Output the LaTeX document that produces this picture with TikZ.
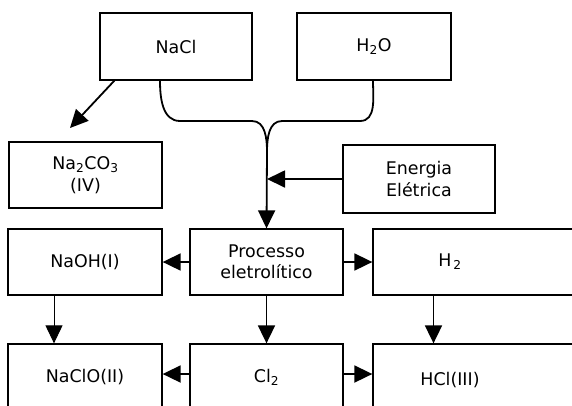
\documentclass[tikz,border=0pt]{standalone}
\usepackage{fontspec}
\setmainfont{DejaVu Sans}
\usetikzlibrary{arrows.meta}
\begin{document}
\begin{tikzpicture}[x=1bp,y=-1bp,
  box/.style={draw=black,line width=1.3bp,rectangle,inner sep=0pt,align=center,
    font=\fontsize{17.5}{21.5}\selectfont},
  txt/.style={inner sep=0pt,align=center,font=\fontsize{17.5}{21.5}\selectfont},
  arr/.style={draw=black,line width=1.8bp,-{Triangle[length=18bp,width=17bp]}},
  thinarr/.style={draw=black,line width=1bp,-{Triangle[length=18bp,width=17bp]}},
  conn/.style={draw=black,line width=1.8bp}]
\useasboundingbox (0,0) rectangle (572,405);
\clip (0,0) rectangle (572,405);
\node[box,minimum width=152bp,minimum height=67bp] (nacl) at (176,46.5) {NaCl};
\node[box,minimum width=154bp,minimum height=67bp] (h2o) at (374,46.5) {H\textsubscript{2}O};
\node[box,minimum width=153bp,minimum height=66bp] (na2co3) at (85.5,175) {Na\textsubscript{2}CO\textsubscript{3}\\(IV)};
\node[box,minimum width=152bp,minimum height=68bp] (ener) at (419,179) {Energia\\Elétrica};
\node[box,minimum width=153bp,minimum height=66bp] (proc) at (266.5,262) {Processo\\eletrolítico};
\node[box,minimum width=154bp,minimum height=66bp] (naoh) at (85,262) {NaOH(I)};
\node[box,minimum width=207bp,minimum height=66bp] (h2) at (476.5,262) {};
\node[txt] (h2t) at (450,262) {H\textsubscript{\,2}};
\node[box,minimum width=154bp,minimum height=66bp] (naclo) at (85,377) {NaClO(II)};
\node[box,minimum width=153bp,minimum height=66bp] (cl2) at (266.5,377) {Cl\textsubscript{2}};
\node[box,minimum width=207bp,minimum height=66bp] (hcl) at (476.5,377) {};
\node[txt] (hclt) at (450,380) {HCl(III)};
\coordinate (m) at (267,152);
\coordinate (t) at (70,128);
% merge curves
\draw[conn] ([xshift=-16bp]nacl.south) to[out=-90,in=180] (180,121) -- (252,121) to[out=0,in=90] (m);
\draw[conn] ([xshift=-1bp]h2o.south) to[out=-90,in=0] (360,121) -- (282,121) to[out=180,in=90] (m);
\draw[arr] (m) -- (proc.north);
\draw[arr] (ener.west) -- (ener.west -| m);
\draw[arr] ([xshift=15bp]nacl.south west) -- (t);
\draw[arr] (proc.west) -- (naoh.east);
\draw[arr] (proc.east) -- (h2.west);
\draw[thinarr] ([xshift=-31bp]naoh.south) -- ([xshift=-31bp]naclo.north);
\draw[arr] (proc.south) -- (cl2.north);
\draw[arr] ([xshift=-43bp]h2.south) -- ([xshift=-43bp]hcl.north);
\draw[arr] ([yshift=3bp]cl2.west) -- ([yshift=3bp]naclo.east);
\draw[arr] ([yshift=3bp]cl2.east) -- ([yshift=3bp]hcl.west);
\end{tikzpicture}
\end{document}
